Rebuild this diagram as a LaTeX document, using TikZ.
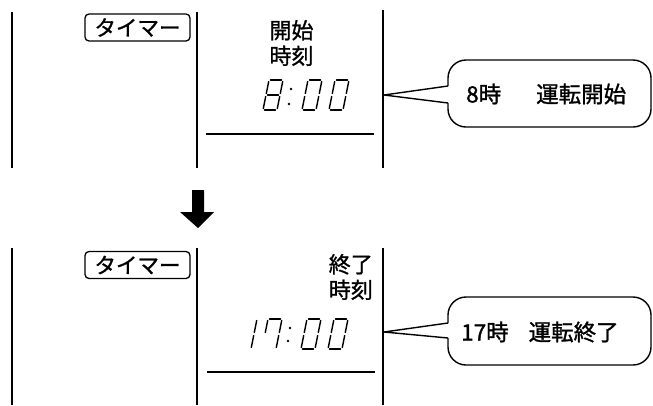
\documentclass[tikz,border=0pt]{standalone}
\usepackage{fontspec}
\newfontfamily\jp{Noto Sans CJK JP}[FakeBold=1.2]
\def\sega{(1.5,-30)--(12.5,-30)}
\def\segb{(14,-28.5)--(14,-16.5)}
\def\segc{(14,-13.5)--(14,-1.5)}
\def\segd{(1.5,0)--(12.5,0)}
\def\sege{(0,-1.5)--(0,-13.5)}
\def\segf{(0,-16.5)--(0,-28.5)}
\def\segg{(1.5,-15)--(12.5,-15)}
\newcommand\segdraw[1]{\expandafter\draw\csname seg#1\endcsname;}
\newcommand\sevdigit[3]{%
  \begin{scope}[shift={(#1,#2)}, xslant=0.2, segline]
    \foreach \s in {#3} {\segdraw{\s}}
  \end{scope}}
\tikzset{
  frameline/.style={line width=1.3pt},
  thinrule/.style={line width=1.1pt},
  segline/.style={line width=1.4pt, line cap=round},
  timerbox/.style={draw, line width=1.3pt, rounded corners=4pt, minimum width=105pt,
    minimum height=27pt, inner sep=0pt, font=\jp\fontsize{21.5}{22}\selectfont},
  label/.style={font=\jp\fontsize{22}{25.5}\selectfont, inner sep=0pt},
  callout/.style={line width=1.4pt, line join=round},
  callouttext/.style={font=\jp\fontsize{22.5}{24}\selectfont, inner sep=0pt},
}
\begin{document}
\begin{tikzpicture}[x=1pt, y=-1pt]
\useasboundingbox (0,0) rectangle (653,405);

% ---------- top panel ----------
\coordinate (tl1) at (12,12);   \coordinate (tl2) at (12,168);
\coordinate (tm1) at (197,12);  \coordinate (tm2) at (197,168);
\coordinate (tr1) at (383,10);  \coordinate (tr2) at (383,168);
\draw[frameline] (tl1) -- (tl2);
\draw[frameline] (tm1) -- (tm2);
\draw[frameline] (tr1) -- (tr2);
\coordinate (hr1a) at (206,134); \coordinate (hr1b) at (374,134);
\draw[thinrule] (hr1a) -- (hr1b);

\node[timerbox] (timer1) at (137.5,27.5) {タイマー};
\node[label, align=center] (start) at (291.5,43) {開始\\時刻};

% 8:00
\sevdigit{263}{110}{a,b,c,d,e,f,g}
\fill (291,89) circle (1.3pt);
\fill (289,104) circle (1.3pt);
\sevdigit{302}{110}{a,b,c,d,e,f}
\sevdigit{329}{110}{a,b,c,d,e,f}

% callout 1
\coordinate (tip1) at (384,95);
\coordinate (b1u) at (448,86);
\coordinate (b1d) at (448,103);
\draw[callout, rounded corners=18pt] (b1d) -- (448,127) -- (651,127) -- (651,60) -- (448,60) -- (b1u);
\draw[callout] (b1u) -- (tip1) -- (b1d);
\node[callouttext, anchor=west] (c1) at (466,94) {8時\hspace{35pt}運転開始};

% ---------- arrow ----------
\coordinate (arT) at (198,190);
\coordinate (arB) at (198,228);
\fill (192,190) -- (204,190) -- (204,212) -- (214,212) -- (arB) -- (180,212) -- (192,212) -- cycle;

% ---------- bottom panel ----------
\coordinate (bl1) at (12,248);   \coordinate (bl2) at (12,405);
\coordinate (bm1) at (197,248);  \coordinate (bm2) at (197,405);
\coordinate (br1) at (383,248);  \coordinate (br2) at (383,405);
\draw[frameline] (bl1) -- (bl2);
\draw[frameline] (bm1) -- (bm2);
\draw[frameline] (br1) -- (br2);
\coordinate (hr2a) at (207,372); \coordinate (hr2b) at (375,372);
\draw[thinrule] (hr2a) -- (hr2b);

\node[timerbox] (timer2) at (137.5,265) {タイマー};
\node[label, align=right, anchor=east] (end) at (373,277) {終了\\時刻};

% 17:00
\sevdigit{237}{349}{b,c}
\sevdigit{262}{349}{a,b,c,f}
\fill (290,328) circle (1.3pt);
\fill (288,341) circle (1.3pt);
\sevdigit{301}{349}{a,b,c,d,e,f}
\sevdigit{328}{349}{a,b,c,d,e,f}

% callout 2
\coordinate (tip2) at (384,332);
\coordinate (b2u) at (448,323);
\coordinate (b2d) at (448,338);
\draw[callout, rounded corners=18pt] (b2d) -- (448,365) -- (651,365) -- (651,297) -- (448,297) -- (b2u);
\draw[callout] (b2u) -- (tip2) -- (b2d);
\node[callouttext, anchor=west] (c2) at (461,332) {17時\hspace{20pt}運転終了};
\end{tikzpicture}
\end{document}
